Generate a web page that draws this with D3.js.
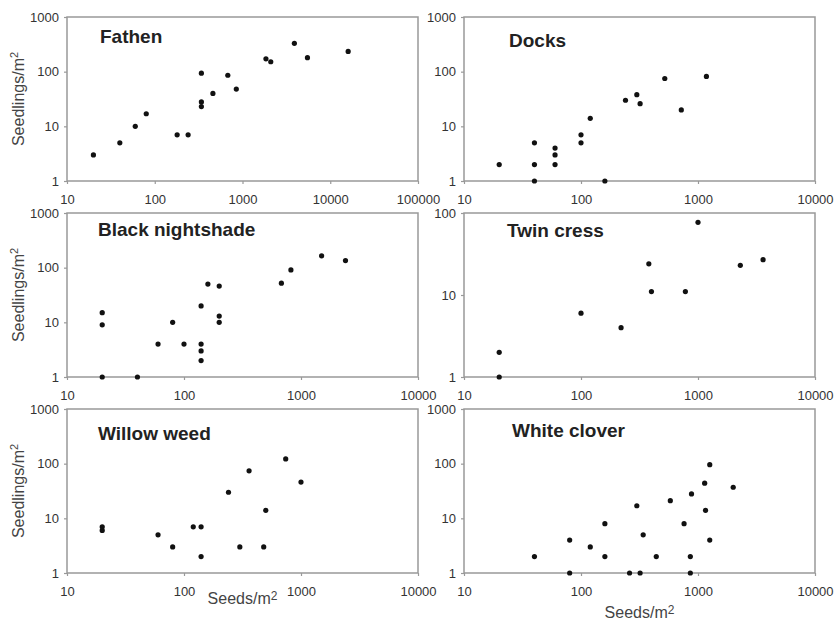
<!DOCTYPE html>
<html>
<head>
<meta charset="utf-8">
<script src="https://cdn.jsdelivr.net/npm/d3@7"></script>
<style>
	body {
		margin: 0;
		background: #fff;
	}

	svg {
		font-family: "Liberation Sans", Arial, sans-serif;
	}

	.frame {
		fill: none;
		stroke: #999;
		stroke-width: 1.5;
	}

	.axis path {
		display: none;
	}

	.axis line {
		stroke: #999;
		stroke-width: 1.2;
	}

	.axis text {
		font-size: 13px;
		fill: #333;
	}

	text.title {
		font-size: 19px;
		font-weight: bold;
		fill: #222;
	}

	text.label {
		font-size: 16px;
		fill: #444;
	}

	.dot {
		fill: #111;
	}
</style>
</head>
<body>
<div id="chart"></div>
<script>
const speciesNames = ["Fathen", "Docks", "Black nightshade", "Twin cress", "Willow weed", "White clover"];

const xTicksWide = [10, 100, 1000, 10000, 100000];
const xTicksNarrow = [10, 100, 1000, 10000];
const yTicks1000 = [1, 10, 100, 1000];
const yTicks100 = [1, 10, 100];

const fathenSeeds = [20, 40, 60, 80, 180, 240, 340, 340, 340, 460, 680, 850, 1850, 2100, 3900, 5500, 16000];
const fathenSeedlings = [3, 5, 10, 17, 7, 7, 94, 28, 23, 40, 86, 48, 172, 152, 330, 180, 235];

const docksSeeds = [20, 40, 40, 40, 60, 60, 60, 100, 100, 120, 160, 240, 300, 320, 520, 720, 1180];
const docksSeedlings = [2, 5, 2, 1, 4, 3, 2, 7, 5, 14, 1, 30, 38, 26, 75, 20, 82];

const nightshadeSeeds = [20, 20, 20, 40, 60, 80, 100, 140, 140, 140, 140, 160, 200, 200, 200, 680, 820, 1500, 2400];
const nightshadeSeedlings = [1, 9, 15, 1, 4, 10, 4, 20, 4, 3, 2, 50, 46, 13, 10, 52, 91, 165, 135];

const cressSeeds = [20, 20, 100, 220, 380, 400, 780, 1000, 2300, 3600];
const cressSeedlings = [1, 2, 6, 4, 24, 11, 11, 77, 23, 27];

const willowSeeds = [20, 20, 60, 80, 120, 140, 140, 240, 300, 360, 480, 500, 740, 1000];
const willowSeedlings = [7, 6, 5, 3, 7, 7, 2, 30, 3, 74, 3, 14, 122, 46];

const cloverSeeds = [40, 80, 80, 120, 160, 160, 260, 300, 320, 340, 440, 580, 760, 860, 860, 880, 1140, 1160, 1260, 1260, 2000];
const cloverSeedlings = [2, 4, 1, 3, 8, 2, 1, 17, 1, 5, 2, 21, 8, 2, 1, 28, 44, 14, 96, 4, 37];

const panels = [
	{ name: speciesNames[0], seeds: fathenSeeds, seedlings: fathenSeedlings, xTicks: xTicksWide, yTicks: yTicks1000 },
	{ name: speciesNames[1], seeds: docksSeeds, seedlings: docksSeedlings, xTicks: xTicksNarrow, yTicks: yTicks1000 },
	{ name: speciesNames[2], seeds: nightshadeSeeds, seedlings: nightshadeSeedlings, xTicks: xTicksNarrow, yTicks: yTicks1000 },
	{ name: speciesNames[3], seeds: cressSeeds, seedlings: cressSeedlings, xTicks: xTicksNarrow, yTicks: yTicks100 },
	{ name: speciesNames[4], seeds: willowSeeds, seedlings: willowSeedlings, xTicks: xTicksNarrow, yTicks: yTicks1000 },
	{ name: speciesNames[5], seeds: cloverSeeds, seedlings: cloverSeedlings, xTicks: xTicksNarrow, yTicks: yTicks1000 }
];

// layout
const colX = [67, 464];
const rowY = [17, 213, 409];
const plotW = 351;
const plotH = 164;
const titleOffset = [[33, 26], [45, 30], [31, 23], [43, 24], [31, 31], [48, 28]];
const xLabelBase = [604, 618];

const svg = d3.select("#chart")
	.append("svg")
	.attr("width", 835)
	.attr("height", 621);

panels.forEach((p, i) => {
	const col = i % 2;
	const row = Math.floor(i / 2);

	const g = svg.append("g")
		.attr("transform", `translate(${colX[col]}, ${rowY[row]})`);

	const xScale = d3.scaleLog()
		.domain([p.xTicks[0], p.xTicks[p.xTicks.length - 1]])
		.range([0, plotW]);

	const yScale = d3.scaleLog()
		.domain([p.yTicks[0], p.yTicks[p.yTicks.length - 1]])
		.range([plotH, 0]);

	g.append("g")
		.attr("class", "axis x-axis")
		.attr("transform", `translate(0, ${plotH})`)
		.call(d3.axisBottom(xScale)
			.tickValues(p.xTicks)
			.tickFormat(d3.format("d"))
			.tickSize(3)
			.tickPadding(11));

	g.append("g")
		.attr("class", "axis y-axis")
		.call(d3.axisLeft(yScale)
			.tickValues(p.yTicks)
			.tickFormat(d3.format("d"))
			.tickSize(3)
			.tickPadding(5));

	g.append("rect")
		.attr("class", "frame")
		.attr("width", plotW)
		.attr("height", plotH);

	g.selectAll(".dot")
		.data(p.seeds.map((s, k) => ({ s: s, n: p.seedlings[k] })))
		.enter()
		.append("circle")
		.attr("class", "dot")
		.attr("cx", d => xScale(d.s))
		.attr("cy", d => yScale(d.n))
		.attr("r", 2.6);

	g.append("text")
		.attr("class", "title")
		.attr("x", titleOffset[i][0])
		.attr("y", titleOffset[i][1])
		.text(p.name);

	if (col === 0) {
		const yl = svg.append("text")
			.attr("class", "label")
			.attr("transform", `translate(24, ${rowY[row] + plotH / 2}) rotate(-90)`)
			.attr("text-anchor", "middle");
		yl.append("tspan").text("Seedlings/m");
		yl.append("tspan").attr("font-size", "11px").attr("dy", -6).text("2");
	}

	if (row === 2) {
		const xl = svg.append("text")
			.attr("class", "label")
			.attr("x", colX[col] + plotW / 2)
			.attr("y", xLabelBase[col])
			.attr("text-anchor", "middle");
		xl.append("tspan").text("Seeds/m");
		xl.append("tspan").attr("font-size", "12px").attr("dy", -4).text("2");
	}
});
</script>
</body>
</html>
